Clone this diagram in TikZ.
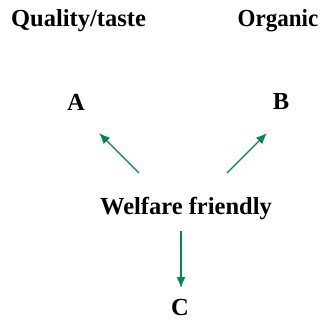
\documentclass[tikz,border=0pt]{standalone}
\usepackage{fontspec}
\setmainfont{Liberation Serif}
\usetikzlibrary{arrows.meta}
\definecolor{arrgreen}{RGB}{0,135,82}
\begin{document}
\begin{tikzpicture}[x=1bp,y=-1bp,
  lbl/.style={font=\fontsize{24.6}{28}\selectfont\bfseries, inner sep=0pt},
  arr/.style={draw=arrgreen, line width=1.4bp, -{Latex[length=11bp,width=9bp]}}]
\useasboundingbox (0,0) rectangle (322,320);
\node[lbl] (q) at (78.5,21) {Quality/taste};
\node[lbl, xscale=0.94] (o) at (278,21) {Organic};
\node[lbl] (a) at (76,102) {A};
\node[lbl] (b) at (281,102) {B};
\node[lbl] (w) at (186,209) {Welfare friendly};
\node[lbl] (c) at (180,308) {C};
\coordinate (l0) at (139,173); \coordinate (l1) at (99,133);
\coordinate (r0) at (227,173); \coordinate (r1) at (267,133);
\coordinate (d0) at (181,231); \coordinate (d1) at (181,288);
\draw[arr] (l0) -- (l1);
\draw[arr] (r0) -- (r1);
\draw[arr] (d0) -- (d1);
\end{tikzpicture}
\end{document}
